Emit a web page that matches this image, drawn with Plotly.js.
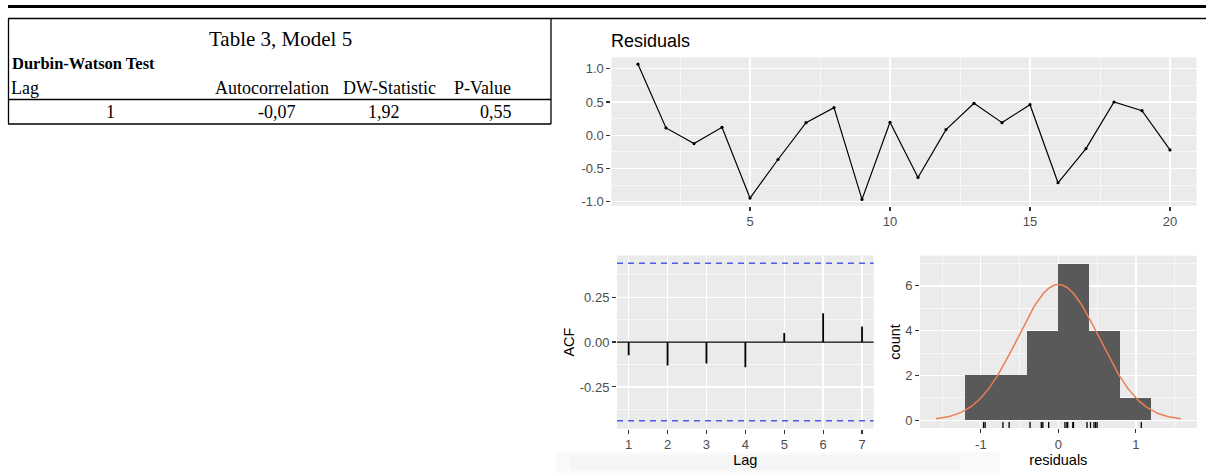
<!DOCTYPE html>
<html><head><meta charset="utf-8">
<script src="https://cdn.plot.ly/plotly-3.0.1.min.js"></script>
<style>html,body{margin:0;padding:0;background:#fff}#chart{width:1206px;height:473px}</style>
</head><body><div id="chart"></div>
<script>
// ---------------- data ----------------
const timeIndex = [1,2,3,4,5,6,7,8,9,10,11,12,13,14,15,16,17,18,19,20];
const residuals = [1.07, 0.11, -0.125, 0.12, -0.945, -0.365, 0.19, 0.415, -0.965, 0.195,
                   -0.635, 0.085, 0.48, 0.19, 0.46, -0.715, -0.2, 0.5, 0.37, -0.22];
const acfLags = [1,2,3,4,5,6,7];
const acfValues = [-0.074, -0.131, -0.119, -0.141, 0.05, 0.161, 0.087];
const histBinWidth = 0.4;
const histBinStart = -1.2;
const histBinEnd = 1.2;

const tableTitle = "Table 3, Model 5";
const tableSubtitle = "Durbin-Watson Test";
const tableHeaders = ["Lag", "Autocorrelation", "DW-Statistic", "P-Value"];
const tableRow = ["1", "-0,07", "1,92", "0,55"];

const resXTicks = [5,10,15,20];
const resXLabels = ["5","10","15","20"];
const resYTicks = [-1,-0.5,0,0.5,1];
const resYLabels = ["-1.0","-0.5","0.0","0.5","1.0"];
const acfXTicks = [1,2,3,4,5,6,7];
const acfXLabels = ["1","2","3","4","5","6","7"];
const acfYTicks = [-0.25,0,0.25];
const acfYLabels = ["-0.25","0.00","0.25"];
const histXTicks = [-1,0,1];
const histXLabels = ["-1","0","1"];
const histYTicks = [0,2,4,6];
const histYLabels = ["0","2","4","6"];

// ---------------- helpers ----------------
const W = 1206, H = 473;
const px = v => v / W;
const py = v => 1 - v / H;
const SANS = "Liberation Sans, Arial, sans-serif";
const SERIF = "Liberation Serif, Times New Roman, serif";
const TICKCOL = "#4D4D4D";

// derived quantities
const n = residuals.length;
const mean = residuals.reduce((a,b)=>a+b,0)/n;
const sd = Math.sqrt(residuals.reduce((a,b)=>a+(b-mean)*(b-mean),0)/(n-1));
const acfConf = 1.96/Math.sqrt(n);
const curveX = [], curveY = [];
for (let i = 0; i <= 200; i++) {
  const x = mean - 3*sd + i*(6*sd/200);
  curveX.push(x);
  curveY.push(n*histBinWidth*Math.exp(-0.5*((x-mean)/sd)**2)/(sd*Math.sqrt(2*Math.PI)));
}
const acfSegX = [], acfSegY = [];
acfLags.forEach((l,i)=>{ acfSegX.push(l,l,null); acfSegY.push(0,acfValues[i],null); });

function axisBase(extra){
  return Object.assign({
    ticks:"outside", ticklen:4, tickwidth:1.1, tickcolor:"#333333",
    showgrid:true, gridcolor:"#FFFFFF", gridwidth:1.3,
    zeroline:false, showline:false, fixedrange:true,
    tickfont:{family:SANS, size:13, color:TICKCOL}
  }, extra);
}

// ---------------- traces ----------------
const traces = [
  {x:timeIndex, y:residuals, type:"scatter", mode:"lines+markers",
   line:{color:"#000000", width:1.2}, marker:{color:"#000000", size:3.2},
   xaxis:"x", yaxis:"y", hoverinfo:"skip", showlegend:false},
  {x:acfSegX, y:acfSegY, type:"scatter", mode:"lines",
   line:{color:"#000000", width:1.8}, xaxis:"x2", yaxis:"y2", hoverinfo:"skip", showlegend:false},
  {x:residuals, type:"histogram", xbins:{start:histBinStart, end:histBinEnd, size:histBinWidth},
   marker:{color:"#595959", line:{width:0}}, xaxis:"x3", yaxis:"y3", hoverinfo:"skip", showlegend:false},
  {x:curveX, y:curveY, type:"scatter", mode:"lines",
   line:{color:"#EC7E55", width:1.5}, xaxis:"x3", yaxis:"y3", hoverinfo:"skip", showlegend:false}
];

// ---------------- shapes ----------------
const shapes = [
  // faint screenshot shadow at bottom
  {type:"rect", xref:"paper", yref:"paper", x0:px(556), x1:px(1000), y0:py(473), y1:py(452),
   fillcolor:"#000000", opacity:0.018, line:{width:0}, layer:"below"},
  {type:"rect", xref:"paper", yref:"paper", x0:px(570), x1:px(960), y0:py(470), y1:py(455),
   fillcolor:"#000000", opacity:0.018, line:{width:0}, layer:"below"},
  // table rules
  {type:"line", xref:"paper", yref:"paper", x0:px(8), x1:px(1206), y0:py(6.5), y1:py(6.5), line:{color:"#000", width:3}},
  {type:"line", xref:"paper", yref:"paper", x0:px(8), x1:px(1206), y0:py(18.5), y1:py(18.5), line:{color:"#000", width:1.3}},
  {type:"line", xref:"paper", yref:"paper", x0:px(8.5), x1:px(8.5), y0:py(18.5), y1:py(124), line:{color:"#000", width:1.3}},
  {type:"line", xref:"paper", yref:"paper", x0:px(551), x1:px(551), y0:py(18.5), y1:py(124), line:{color:"#000", width:1.3}},
  {type:"line", xref:"paper", yref:"paper", x0:px(8), x1:px(551), y0:py(99.5), y1:py(99.5), line:{color:"#000", width:1.3}},
  {type:"line", xref:"paper", yref:"paper", x0:px(8), x1:px(551), y0:py(124), y1:py(124), line:{color:"#000", width:1.3}},
  // ACF zero line and confidence bounds
  {type:"line", xref:"x2 domain", yref:"y2", x0:0, x1:1, y0:0, y1:0, line:{color:"#000", width:1.2}},
  {type:"line", xref:"x2 domain", yref:"y2", x0:0, x1:1, y0:acfConf, y1:acfConf, line:{color:"#4F5BE8", width:1.5, dash:"6px,5px"}},
  {type:"line", xref:"x2 domain", yref:"y2", x0:0, x1:1, y0:-acfConf, y1:-acfConf, line:{color:"#4F5BE8", width:1.5, dash:"6px,5px"}}
];
// rug
residuals.forEach(r => shapes.push({type:"line", xref:"x3", yref:"y3 domain", x0:r, x1:r, y0:0, y1:0.035,
  line:{color:"#000", width:1.3}}));

// ---------------- annotations (table) ----------------
const annotations = [
  {text:tableTitle, x:px(280), y:py(39), xanchor:"center", yanchor:"middle", font:{family:SERIF, size:21, color:"#000"}},
  {text:"<b>"+tableSubtitle+"</b>", x:px(10), y:py(64), xanchor:"left", yanchor:"middle", font:{family:SERIF, size:16.5, color:"#000"}},
  {text:tableHeaders[0], x:px(9), y:py(88), xanchor:"left", yanchor:"middle", font:{family:SERIF, size:18, color:"#000"}},
  {text:tableHeaders[1], x:px(331), y:py(88), xanchor:"right", yanchor:"middle", font:{family:SERIF, size:18, color:"#000"}},
  {text:tableHeaders[2], x:px(438), y:py(88), xanchor:"right", yanchor:"middle", font:{family:SERIF, size:18, color:"#000"}},
  {text:tableHeaders[3], x:px(513), y:py(88), xanchor:"right", yanchor:"middle", font:{family:SERIF, size:18, color:"#000"}},
  {text:tableRow[0], x:px(110), y:py(112), xanchor:"center", yanchor:"middle", font:{family:SERIF, size:18, color:"#000"}},
  {text:tableRow[1], x:px(298), y:py(112), xanchor:"right", yanchor:"middle", font:{family:SERIF, size:18, color:"#000"}},
  {text:tableRow[2], x:px(402), y:py(112), xanchor:"right", yanchor:"middle", font:{family:SERIF, size:18, color:"#000"}},
  {text:tableRow[3], x:px(514), y:py(112), xanchor:"right", yanchor:"middle", font:{family:SERIF, size:18, color:"#000"}}
].map(a => Object.assign({xref:"paper", yref:"paper", showarrow:false}, a));

// ---------------- layout ----------------
const layout = {
  width:W, height:H, autosize:false,
  margin:{l:0, r:0, t:0, b:0},
  paper_bgcolor:"#FFFFFF", plot_bgcolor:"#EBEBEB",
  showlegend:false, bargap:0,
  font:{family:SANS},
  title:{text:"Residuals", xref:"paper", yref:"paper", x:px(611), xanchor:"left", y:py(41), yanchor:"middle",
         font:{family:SANS, size:18, color:"#000"}},
  xaxis:axisBase({domain:[px(611.4), px(1196.6)], range:[0.05,20.95], anchor:"y",
    tickvals:resXTicks, ticktext:resXLabels,
    minor:{tickvals:[2.5,7.5,12.5,17.5], showgrid:true, gridcolor:"#FFFFFF", gridwidth:0.6, ticks:""}}),
  yaxis:axisBase({domain:[py(205.7), py(57.5)], range:[-1.06,1.17], anchor:"x",
    tickvals:resYTicks, ticktext:resYLabels,
    minor:{tickvals:[-0.75,-0.25,0.25,0.75], showgrid:true, gridcolor:"#FFFFFF", gridwidth:0.6, ticks:""}}),
  xaxis2:axisBase({domain:[px(617), px(873.7)], range:[0.7,7.3], anchor:"y2",
    tickvals:acfXTicks, ticktext:acfXLabels,
    title:{text:"Lag", font:{family:SANS, size:14.5, color:"#000"}, standoff:0}}),
  yaxis2:axisBase({domain:[py(428.6), py(255.5)], range:[-0.482,0.482], anchor:"x2",
    tickvals:acfYTicks, ticktext:acfYLabels,
    minor:{tickvals:[-0.375,-0.125,0.125,0.375], showgrid:true, gridcolor:"#FFFFFF", gridwidth:0.6, ticks:""},
    title:{text:"ACF", font:{family:SANS, size:14.5, color:"#000"}, standoff:1}}),
  xaxis3:axisBase({domain:[px(920), px(1196.7)], range:[-1.785,1.785], anchor:"y3",
    tickvals:histXTicks, ticktext:histXLabels,
    minor:{tickvals:[-1.5,-0.5,0.5,1.5], showgrid:true, gridcolor:"#FFFFFF", gridwidth:0.6, ticks:""},
    title:{text:"residuals", font:{family:SANS, size:14.5, color:"#000"}, standoff:0}}),
  yaxis3:axisBase({domain:[py(428.1), py(255.7)], range:[-0.35,7.35], anchor:"x3",
    tickvals:histYTicks, ticktext:histYLabels,
    minor:{tickvals:[1,3,5,7], showgrid:true, gridcolor:"#FFFFFF", gridwidth:0.6, ticks:""},
    title:{text:"count", font:{family:SANS, size:14.5, color:"#000"}, standoff:1}}),
  shapes:shapes,
  annotations:annotations
};

Plotly.newPlot("chart", traces, layout, {displayModeBar:false, staticPlot:true});
</script>
</body></html>
